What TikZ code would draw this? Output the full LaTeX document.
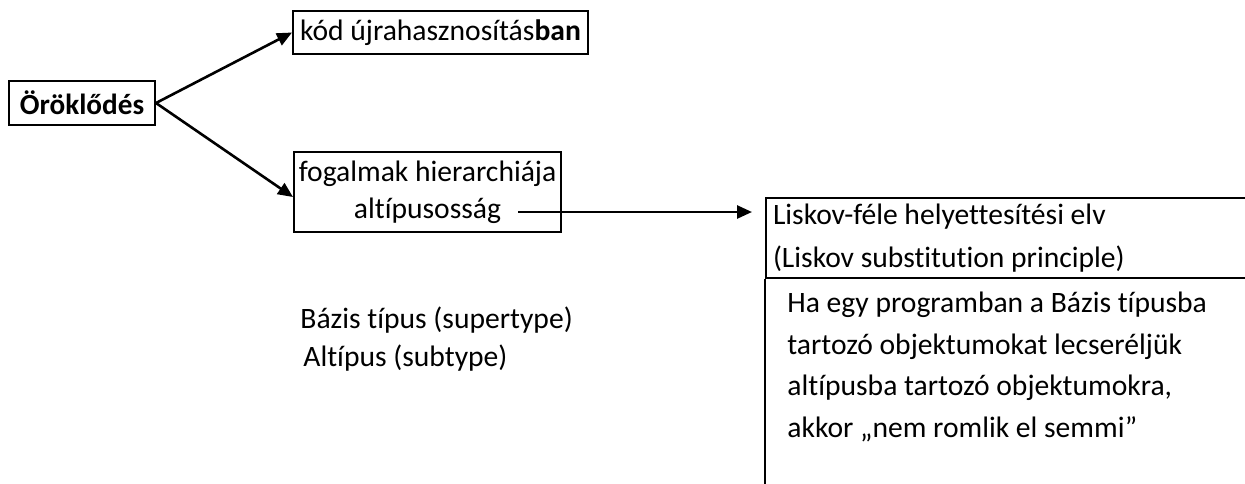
\documentclass[tikz,border=0pt]{standalone}
\usepackage{fontspec}
\setmainfont{Carlito}[Ligatures=NoCommon]
\usetikzlibrary{arrows.meta}
\begin{document}
\begin{tikzpicture}[x=0.5pt,y=-0.5pt,
  box/.style={draw, line width=1pt, inner sep=0pt, font=\fontsize{14.8}{18.5}\selectfont},
  conn/.style={line width=1.3pt, -{Triangle[length=7.5pt,width=6.5pt]}},
  plain/.style={inner sep=0pt, font=\fontsize{14.8}{20.75}\selectfont}]
\useasboundingbox (0,0) rectangle (1245,483);
\clip (0,0) rectangle (1245,483);
\node[box, minimum width=73pt, minimum height=22pt, font=\fontsize{14.6}{18}\selectfont\bfseries] (orok) at (82,103) {Öröklődés};
\node[box, minimum width=147.5pt, minimum height=21.5pt] (kod) at (440.5,32.5) {kód újrahasznosítás\textbf{ban}};
\node[box, minimum width=133.5pt, minimum height=40pt, align=center] (fog) at (427.5,192) {fogalmak hierarchiája\\altípusosság};
\node[box, anchor=north west, minimum height=40pt, inner xsep=3.5pt, text width=260pt, align=flush left, font=\fontsize{14.8}{21.5}\selectfont] (lisk) at (765,197) {Liskov-féle helyettesítési elv\\(Liskov substitution principle)};
\draw[line width=1pt] (lisk.south west) -- ++(0,230);
\node[plain, anchor=north west, align=left] (rule) at (787,292) {Ha egy programban a Bázis típusba\\tartozó objektumokat lecseréljük\\altípusba tartozó objektumokra,\\akkor „nem romlik el semmi”};
\node[plain, anchor=base west] (bazis) at (300,328) {Bázis típus (supertype)};
\node[plain, anchor=base west] (alt) at (303,366) {Altípus (subtype)};
\draw[conn] (orok.east) -- (kod.west);
\draw[conn] (orok.east) -- ([yshift=-2.5pt]fog.west);
\coordinate (hs) at (518,212);
\draw[conn] (hs) -- ([xshift=-6.5pt]lisk.west |- hs);
\end{tikzpicture}
\end{document}
